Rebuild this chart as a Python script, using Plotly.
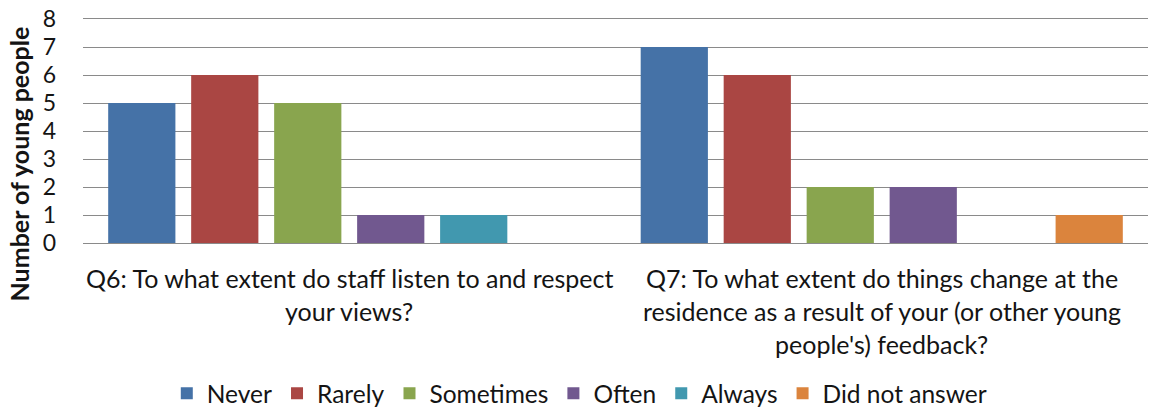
import plotly.graph_objects as go

# Survey questions (x categories) and the wrapped label lines drawn under each group
questions = ["Q6", "Q7"]
question_lines = [
    ["Q6: To what extent do staff listen to and respect", "your views?"],
    ["Q7: To what extent do things change at the",
     "residence as a result of your (or other young",
     "people's) feedback?"],
]

# Response options and counts per question
responses = ["Never", "Rarely", "Sometimes", "Often", "Always", "Did not answer"]
never = [5, 7]
rarely = [6, 6]
sometimes = [5, 2]
often = [1, 2]
always = [1, 0]
did_not_answer = [0, 1]

series_values = [never, rarely, sometimes, often, always, did_not_answer]
colors = ["#4572A7", "#AA4643", "#89A54E", "#71588F", "#4198AF", "#DB843D"]

y_ticks = [0, 1, 2, 3, 4, 5, 6, 7, 8]

FONT = "Lato"
TXT = "#141414"
GRID = "#8a8a8a"

fig = go.Figure()
for name, vals, col in zip(responses, series_values, colors):
    fig.add_trace(go.Bar(
        name=name, x=questions, y=vals,
        marker=dict(color=col, line=dict(color=col, width=0)),
    ))

# Wrapped category labels, one annotation per line, anchored to each category
for q, lines in zip(questions, question_lines):
    for i, line in enumerate(lines):
        fig.add_annotation(
            x=q, y=0, xref="x", yref="y",
            text=line, showarrow=False,
            xanchor="center", yanchor="middle",
            yshift=-35 - 33 * i,
            font=dict(family=FONT, size=25, color=TXT),
        )

# Rotated y-axis title
fig.add_annotation(
    x=-0.0592, y=0.355, xref="paper", yref="paper",
    text="<b>Number of young people</b>", textangle=-90,
    showarrow=False, xanchor="center", yanchor="middle",
    font=dict(family=FONT, size=25, color=TXT),
)

fig.update_layout(
    width=1150, height=412,
    margin=dict(l=83, r=2, t=19, b=169, autoexpand=False),
    paper_bgcolor="white", plot_bgcolor="white",
    barmode="group", bargap=0.065, bargroupgap=0.19,
    font=dict(family=FONT, size=24, color=TXT),
    showlegend=True,
    legend=dict(
        orientation="h", x=0.466, y=-0.772,
        xanchor="center", yanchor="bottom",
        font=dict(family=FONT, size=24.5, color=TXT),
        itemwidth=30, traceorder="normal",
        bgcolor="rgba(0,0,0,0)",
    ),
)
# Bottom and top borders of the plot carry the 0 and 8 gridlines
fig.update_xaxes(showticklabels=False, showgrid=False, zeroline=False,
                 showline=True, mirror=True, linecolor=GRID, linewidth=1,
                 ticks="")
fig.update_yaxes(
    range=[0, 8], tickvals=y_ticks, ticks="",
    showgrid=True, gridcolor=GRID, gridwidth=1,
    zeroline=False, showline=False,
    tickfont=dict(family=FONT, size=23, color=TXT),
    ticklabelstandoff=26,
)

fig.write_html("out.html")
